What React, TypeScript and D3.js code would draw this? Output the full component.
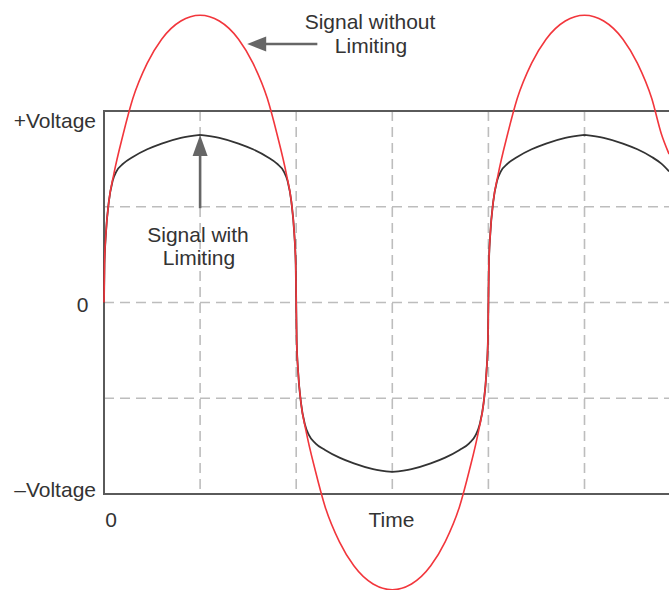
import React from "react";
import * as d3 from "d3";

// Time is measured in grid divisions, voltage in grid divisions (box spans -2..+2).
const redTime = [
  0, 0.005, 0.02, 0.05, 0.1, 0.2, 0.3, 0.45, 0.6, 0.8, 1.0, 1.2, 1.4, 1.55, 1.7, 1.8, 1.9, 1.95, 1.98, 1.995,
  2.0, 2.005, 2.02, 2.05, 2.1, 2.2, 2.3, 2.45, 2.6, 2.8, 3.0, 3.2, 3.4, 3.55, 3.7, 3.8, 3.9, 3.95, 3.98, 3.995,
  4.0, 4.005, 4.02, 4.05, 4.1, 4.2, 4.3, 4.45, 4.6, 4.8, 5.0, 5.2, 5.4, 5.55, 5.7, 5.8, 5.88,
];
const redVolts = [
  0, 0.4, 0.72, 1.05, 1.33, 1.76, 2.13, 2.5, 2.75, 2.94, 3.0, 2.94, 2.75, 2.5, 2.13, 1.76, 1.33, 1.05, 0.72, 0.4,
  0, -0.4, -0.72, -1.05, -1.33, -1.76, -2.13, -2.5, -2.75, -2.94, -3.0, -2.94, -2.75, -2.5, -2.13, -1.76, -1.33, -1.05, -0.72, -0.4,
  0, 0.4, 0.72, 1.05, 1.33, 1.76, 2.13, 2.5, 2.75, 2.94, 3.0, 2.94, 2.75, 2.5, 2.13, 1.76, 1.55,
];

const limitedTime = [
  0, 0.005, 0.02, 0.05, 0.09, 0.13, 0.2, 0.3, 0.45, 0.6, 0.8, 1.0, 1.2, 1.4, 1.55, 1.7, 1.8, 1.87, 1.91, 1.95, 1.98, 1.995,
  2.0, 2.005, 2.02, 2.05, 2.09, 2.13, 2.2, 2.3, 2.45, 2.6, 2.8, 3.0, 3.2, 3.4, 3.55, 3.7, 3.8, 3.87, 3.91, 3.95, 3.98, 3.995,
  4.0, 4.005, 4.02, 4.05, 4.09, 4.13, 4.2, 4.3, 4.45, 4.6, 4.8, 5.0, 5.2, 5.4, 5.55, 5.7, 5.8, 5.88,
];
const limitedVolts = [
  0, 0.4, 0.72, 1.05, 1.27, 1.37, 1.45, 1.52, 1.6, 1.66, 1.72, 1.75, 1.72, 1.66, 1.6, 1.52, 1.45, 1.37, 1.27, 1.05, 0.72, 0.4,
  0, -0.4, -0.72, -1.05, -1.27, -1.38, -1.47, -1.54, -1.62, -1.68, -1.74, -1.77, -1.74, -1.68, -1.62, -1.54, -1.47, -1.38, -1.27, -1.05, -0.72, -0.4,
  0, 0.4, 0.72, 1.05, 1.27, 1.37, 1.45, 1.52, 1.6, 1.66, 1.72, 1.75, 1.72, 1.66, 1.6, 1.52, 1.45, 1.37,
];

const gridTimes = [1, 2, 3, 4, 5];
const gridVolts = [-1, 0, 1];

const W = 669;
const H = 590;

const x = d3.scaleLinear().domain([0, 6]).range([104, 104 + 6 * 96.1]);
const y = d3.scaleLinear().domain([-2, 2]).range([494, 111]);

type P = [number, number];

const line = d3
  .line<P>()
  .x((d) => x(d[0]))
  .y((d) => y(d[1]))
  .curve(d3.curveMonotoneX);

// Split a series at its peaks so each arc meets the next in a point.
function pointedPath(pts: P[]): string {
  const parts: string[] = [];
  let start = 0;
  for (let i = 1; i < pts.length - 1; i++) {
    const a = pts[i][1] - pts[i - 1][1];
    const b = pts[i + 1][1] - pts[i][1];
    if (a * b < 0) {
      parts.push(line(pts.slice(start, i + 1)) || "");
      start = i;
    }
  }
  parts.push(line(pts.slice(start)) || "");
  return parts.join("");
}

const FONT = "'Liberation Sans', Arial, sans-serif";
const TEXT = "#333";
const ARROW = "#666";

export default function App() {
  const redPts: P[] = redTime.map((t, i) => [t, redVolts[i]]);
  const limPts: P[] = limitedTime.map((t, i) => [t, limitedVolts[i]]);

  const xl = x(0);
  const xr = x(6);

  // Arrow toward the unlimited signal (points left)
  const a1Tip: P = [x(1.49), y(2.7)];
  const a1Tail = x(2.22);
  // Arrow toward the limited signal (points up)
  const a2Tip: P = [x(1), y(1.75)];
  const a2Tail = y(0.985);
  const headL = 19;
  const headW = 7.5;

  return (
    <svg
      width={W}
      height={H}
      style={{ position: "absolute", left: 0, top: 0, display: "block", background: "#fff" }}
    >
      {/* grid */}
      <g stroke="#bdbdbd" strokeWidth={1.6} strokeDasharray="10,6" fill="none">
        {gridTimes.map((t) => (
          <line key={"gx" + t} x1={x(t)} x2={x(t)} y1={y(2)} y2={y(-2)} />
        ))}
        {gridVolts.map((v) => (
          <line key={"gy" + v} x1={xl} x2={xr} y1={y(v)} y2={y(v)} />
        ))}
      </g>

      {/* frame */}
      <g stroke="#5a5a5a" strokeWidth={2} fill="none">
        <line x1={xl} x2={xl} y1={y(2) - 1} y2={y(-2) + 1} />
        <line x1={xl} x2={xr} y1={y(2)} y2={y(2)} />
        <line x1={xl} x2={xr} y1={y(-2)} y2={y(-2)} />
      </g>

      {/* limited signal */}
      <path d={pointedPath(limPts)} fill="none" stroke="#333" strokeWidth={1.8} strokeLinejoin="round" />

      {/* unlimited signal */}
      <path d={line(redPts) || ""} fill="none" stroke="#f2363c" strokeWidth={1.6} />

      {/* arrows */}
      <line x1={a1Tail} x2={a1Tip[0] + headL - 1} y1={a1Tip[1]} y2={a1Tip[1]} stroke={ARROW} strokeWidth={2.6} />
      <polygon
        points={`${a1Tip[0]},${a1Tip[1]} ${a1Tip[0] + headL},${a1Tip[1] - headW} ${a1Tip[0] + headL},${a1Tip[1] + headW}`}
        fill={ARROW}
      />
      <line x1={a2Tip[0]} x2={a2Tip[0]} y1={a2Tail} y2={a2Tip[1] + headL - 1} stroke={ARROW} strokeWidth={2.6} />
      <polygon
        points={`${a2Tip[0]},${a2Tip[1]} ${a2Tip[0] - headW},${a2Tip[1] + headL + 2} ${a2Tip[0] + headW},${a2Tip[1] + headL + 2}`}
        fill={ARROW}
      />

      {/* labels */}
      <g fontFamily={FONT} fontSize={21} fill={TEXT}>
        <text x={96} y={128} textAnchor="end">+Voltage</text>
        <text x={88.5} y={311.5} textAnchor="end">0</text>
        <text x={96} y={497} textAnchor="end">–Voltage</text>
        <text x={x(0) + 7} y={527} textAnchor="middle">0</text>
        <text x={391.5} y={527} textAnchor="middle">Time</text>
        <text x={370} y={29} textAnchor="middle">Signal without</text>
        <text x={371} y={53} textAnchor="middle">Limiting</text>
        <text x={198} y={241.5} textAnchor="middle">Signal with</text>
        <text x={199} y={264.5} textAnchor="middle">Limiting</text>
      </g>
    </svg>
  );
}
